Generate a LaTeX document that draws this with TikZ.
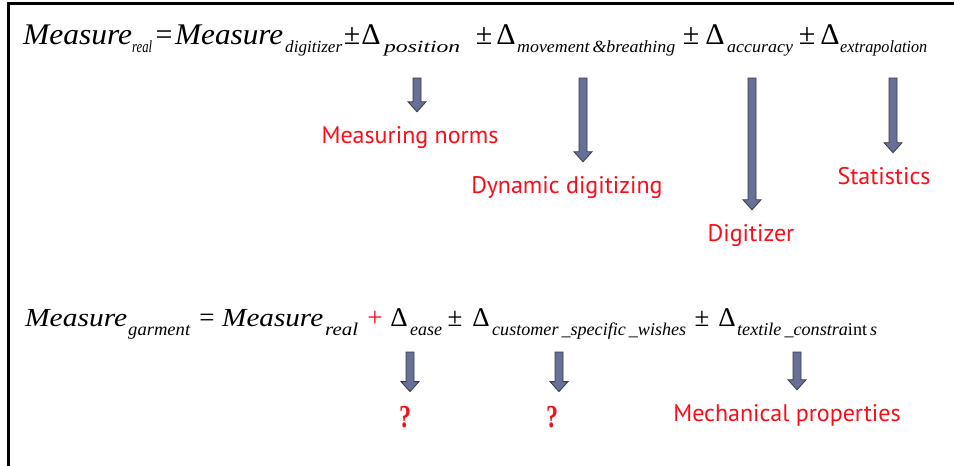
\documentclass[tikz,border=0pt]{standalone}
\usepackage{fontspec}
\usepackage{graphicx}
\setmainfont{Liberation Serif}
\newfontfamily\notefont{PT Sans}
\usetikzlibrary{calc}

\definecolor{arrowfill}{RGB}{104,112,152}
\definecolor{arrowedge}{RGB}{55,58,75}
\definecolor{notered}{RGB}{250,12,24}

% squeeze a term to the width it has in the slide
\newcommand{\fitw}[2]{\resizebox{#1}{\height}{#2}}
% block arrow from a point straight down to just above a label
\newcommand{\blockdown}[2]{%
  \filldraw[blockarrow] let \p1=(#1), \p2=(#2) in
    (\x1-4pt,\y1) -- (\x1+4pt,\y1) -- (\x1+4pt,\y2+24pt) -- (\x1+9pt,\y2+24pt)
    -- (\x1,\y2+14pt) -- (\x1-9pt,\y2+24pt) -- (\x1-4pt,\y2+24pt) -- cycle;}

\begin{document}
\begin{tikzpicture}[
  x=1pt, y=-1pt,
  mainterm/.style={anchor=base west, inner sep=0pt, font=\fontsize{#1}{#1}\selectfont\itshape},
  subterm/.style={anchor=base west, inner sep=0pt, font=\fontsize{#1}{#1}\selectfont\itshape},
  opsign/.style={anchor=base, inner sep=0pt, font=\fontsize{#1}{#1}\selectfont},
  note/.style={anchor=base, inner sep=0pt, text=notered, font=\notefont\fontsize{24}{24}\selectfont},
  ask/.style={anchor=base, inner sep=0pt, text=notered, font=\bfseries\fontsize{32}{32}\selectfont},
  blockarrow/.style={fill=arrowfill, draw=arrowedge, line width=0.8pt, line join=miter},
  frame/.style={draw=black, line width=2.5pt}
]
  \useasboundingbox (0,0) rectangle (954,466);
  \draw[frame] (8.5,466) -- (8.5,3.5) -- (954,3.5);

  % Measured value from the digitizer
  \node[mainterm=30] (mr) at (23,44) {\fitw{109pt}{Measure}};
  \node[subterm=17] (mrs) at (132,52) {\fitw{20pt}{real}};
  \node[opsign=30] (eq1) at (164,44) {=};
  \node[mainterm=30] (md) at (175,44) {\fitw{108pt}{Measure}};
  \node[subterm=17] (mds) at (285,52) {\fitw{57pt}{digitizer}};
  \node[opsign=30] (pm1) at (352,44) {±};
  \node[opsign=30] (dp) at (371,44) {Δ};
  \node[subterm=17] (dps) at (384,52) {\fitw{76pt}{position}};
  \node[opsign=30] (pm2) at (484,44) {±};
  \node[opsign=30] (dm) at (506,44) {Δ};
  \node[subterm=17] (dms) at (517,52) {\fitw{158pt}{movement\,\&breathing}};
  \node[opsign=30] (pm3) at (691,44) {±};
  \node[opsign=30] (da) at (715,44) {Δ};
  \node[subterm=17] (das) at (727,52) {\fitw{66pt}{accuracy}};
  \node[opsign=30] (pm4) at (807,44) {±};
  \node[opsign=30] (de) at (830,44) {Δ};
  \node[subterm=17] (des) at (840,52) {\fitw{87pt}{extrapolation}};

  % Sources of error
  \node[note] (nrm) at (410,143) {Measuring norms};
  \node[note] (dyn) at (567,193) {Dynamic digitizing};
  \node[note] (dig) at (751,241) {Digitizer};
  \node[note] (sta) at (884,184) {Statistics};

  \coordinate (t1) at (417,78);
  \coordinate (t2) at (583,78);
  \coordinate (t3) at (752,78);
  \coordinate (t4) at (893,78);
  \blockdown{t1}{nrm.north}
  \blockdown{t2}{dyn.north}
  \blockdown{t3}{dig.north}
  \blockdown{t4}{sta.north}

  % Garment measure
  \node[mainterm=26] (mg) at (25,326) {\fitw{102pt}{Measure}};
  \node[subterm=18] (mgs) at (128,335) {\fitw{62pt}{garment}};
  \node[opsign=27] (eq2) at (207,326) {=};
  \node[mainterm=26] (mr2) at (222,326) {\fitw{101pt}{Measure}};
  \node[subterm=18] (mr2s) at (325,335) {\fitw{33pt}{real}};
  \node[opsign=27, text=notered] (pl) at (375,326) {+};
  \node[opsign=27] (dea) at (399,326) {Δ};
  \node[subterm=18] (deas) at (410,335) {\fitw{32pt}{ease}};
  \node[opsign=27] (pm5) at (455,326) {±};
  \node[opsign=27] (dc) at (481,326) {Δ};
  \node[subterm=18] (dcs) at (492,335) {\fitw{194pt}{customer\,\_specific\,\_wishes}};
  \node[opsign=27] (pm6) at (702,326) {±};
  \node[opsign=27] (dt) at (727,326) {Δ};
  \node[subterm=18] (dts) at (737,335) {\fitw{140pt}{textile\,\_constra\upshape int\,\itshape s}};

  % Open questions
  \node[ask] (q1) at (405,427) {\fitw{12pt}{?}};
  \node[ask] (q2) at (552,427) {\fitw{12pt}{?}};
  \node[note] (mec) at (787,421) {Mechanical properties};

  \coordinate (u1) at (410,352);
  \coordinate (u2) at (559,352);
  \coordinate (u3) at (797,352);
  \blockdown{u1}{q1.north}
  \blockdown{u2}{q2.north}
  \blockdown{u3}{mec.north}
\end{tikzpicture}
\end{document}
